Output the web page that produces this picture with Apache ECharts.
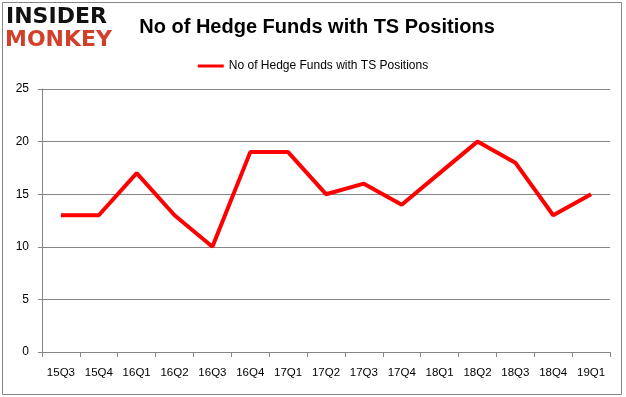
<!DOCTYPE html>
<html>
<head>
<meta charset="utf-8">
<script src="https://cdn.jsdelivr.net/npm/echarts@6/dist/echarts.min.js"></script>
<style>
  html, body { margin: 0; padding: 0; background: #fff; }
  #chart { width: 626px; height: 397px; }
</style>
</head>
<body>
<div id="chart"></div>
<script>
const trimestres = ['15Q3', '15Q4', '16Q1', '16Q2', '16Q3', '16Q4', '17Q1', '17Q2', '17Q3', '17Q4', '18Q1', '18Q2', '18Q3', '18Q4', '19Q1'];
const fondos = [13, 13, 17, 13, 10, 19, 19, 15, 16, 14, 17, 20, 18, 13, 15];
const nombreSerie = 'No of Hedge Funds with TS Positions';

const chartDom = document.getElementById('chart');
const myChart = echarts.init(chartDom);

const option = {
    animation: false,
    title: {
        text: 'No of Hedge Funds with TS Positions',
        left: 312,
        top: 12,
        textAlign: 'center',
        textStyle: {
            fontFamily: 'Liberation Sans',
            fontSize: 20,
            fontWeight: 'bold',
            color: '#000'
        }
    },
    legend: {
        top: 55,
        left: 'center',
        itemWidth: 26,
        itemHeight: 3,
        icon: 'rect',
        textStyle: {
            fontFamily: 'Liberation Sans',
            fontSize: 12,
            color: '#000'
        },
        data: [nombreSerie]
    },
    grid: {
        left: 42,
        right: 16,
        top: 89,
        bottom: 45
    },
    xAxis: {
        type: 'category',
        data: trimestres,
        boundaryGap: true,
        axisLine: { lineStyle: { color: '#868686', width: 1 } },
        axisTick: { show: true, interval: 0, length: 5, lineStyle: { color: '#868686' } },
        axisLabel: {
            interval: 0,
            margin: 15,
            fontFamily: 'Liberation Sans',
            fontSize: 11.5,
            color: '#000'
        }
    },
    yAxis: {
        type: 'value',
        min: 0,
        max: 25,
        interval: 5,
        axisLine: { show: true, lineStyle: { color: '#868686', width: 1 } },
        axisTick: { show: true, length: 4, lineStyle: { color: '#868686' } },
        splitLine: { lineStyle: { color: '#868686', width: 1 } },
        axisLabel: {
            margin: 13,
            fontFamily: 'Liberation Sans',
            fontSize: 12,
            color: '#000'
        }
    },
    graphic: [
        {
            type: 'rect',
            shape: { x: 2.5, y: 2.5, width: 619, height: 392 },
            style: { fill: 'none', stroke: '#868686', lineWidth: 1 },
            silent: true
        },
        {
            type: 'text',
            left: 6,
            top: 6,
            style: {
                text: 'INSIDER',
                fontFamily: 'DejaVu Sans',
                fontSize: 22,
                fontWeight: 'bold',
                fill: '#111'
            }
        },
        {
            type: 'text',
            left: 5,
            top: 29,
            style: {
                text: 'MONKEY',
                fontFamily: 'DejaVu Sans',
                fontSize: 22,
                fontWeight: 'bold',
                fill: '#d2402b'
            }
        }
    ],
    series: [{
        name: nombreSerie,
        type: 'line',
        data: fondos,
        symbol: 'none',
        lineStyle: { color: '#ff0000', width: 4 },
        itemStyle: { color: '#ff0000' }
    }]
};

myChart.setOption(option);
</script>
</body>
</html>
